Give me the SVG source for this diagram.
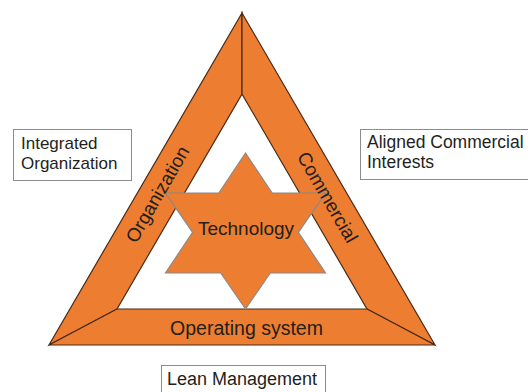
<svg xmlns="http://www.w3.org/2000/svg" width="528" height="392" viewBox="0 0 528 392">
  <style>
    .band { fill: #ED7D31; stroke: #4A2A16; stroke-width: 1.2; stroke-linejoin: miter; }
    .star { fill: #ED7D31; stroke: #8A8A8A; stroke-width: 1.2; stroke-linejoin: miter; }
    .lbl { font-family: "Liberation Sans", Arial, sans-serif; fill: #231F1C; }
    .box { fill: #FFFFFF; stroke: #8C8C8C; stroke-width: 1; }
  </style>
  <rect x="0" y="0" width="528" height="392" fill="#FFFFFF"/>

  <!-- Triangle frame: three trapezoid bands -->
  <g id="band-organization">
    <polygon class="band" points="242,13 242,94 117,309 49,345"/>
  </g>
  <g id="band-commercial">
    <polygon class="band" points="242,13 435,345 367,309 242,94"/>
  </g>
  <g id="band-operating">
    <polygon class="band" points="49,345 435,345 367,309 117,309"/>
  </g>

  <!-- Central hexagram -->
  <g id="technology">
    <polygon class="star" points="245.5,153 272.2,193 325.5,193 298.4,232.3 325.5,273 270.3,273 245.5,309 220.7,273 165.5,273 192.6,232.3 165.5,193 218.8,193"/>
    <text class="lbl" x="246" y="235" font-size="19" text-anchor="middle">Technology</text>
  </g>

  <!-- Band labels -->
  <g id="label-organization">
    <text class="lbl" font-size="19" text-anchor="middle" transform="translate(157,194) rotate(-60)" y="7">Organization</text>
  </g>
  <g id="label-commercial">
    <text class="lbl" font-size="19" text-anchor="middle" transform="translate(328,197) rotate(60)" y="7">Commercial</text>
  </g>
  <g id="label-operating">
    <text class="lbl" x="246.5" y="335" font-size="19.5" text-anchor="middle">Operating system</text>
  </g>

  <!-- Outer caption boxes -->
  <g id="box-integrated">
    <rect class="box" x="13.5" y="129.5" width="118" height="51"/>
    <text class="lbl" x="21" font-size="17"><tspan x="21" y="148.5">Integrated</tspan><tspan x="21" y="168.5">Organization</tspan></text>
  </g>
  <g id="box-aligned">
    <rect class="box" x="360.5" y="129.5" width="170" height="50"/>
    <text class="lbl" x="367" font-size="17.5"><tspan x="367" y="148">Aligned Commercial</tspan><tspan x="367" y="167.5">Interests</tspan></text>
  </g>
  <g id="box-lean">
    <rect class="box" x="161.5" y="365.5" width="164" height="40"/>
    <text class="lbl" x="167" y="384.5" font-size="18">Lean Management</text>
  </g>
</svg>
